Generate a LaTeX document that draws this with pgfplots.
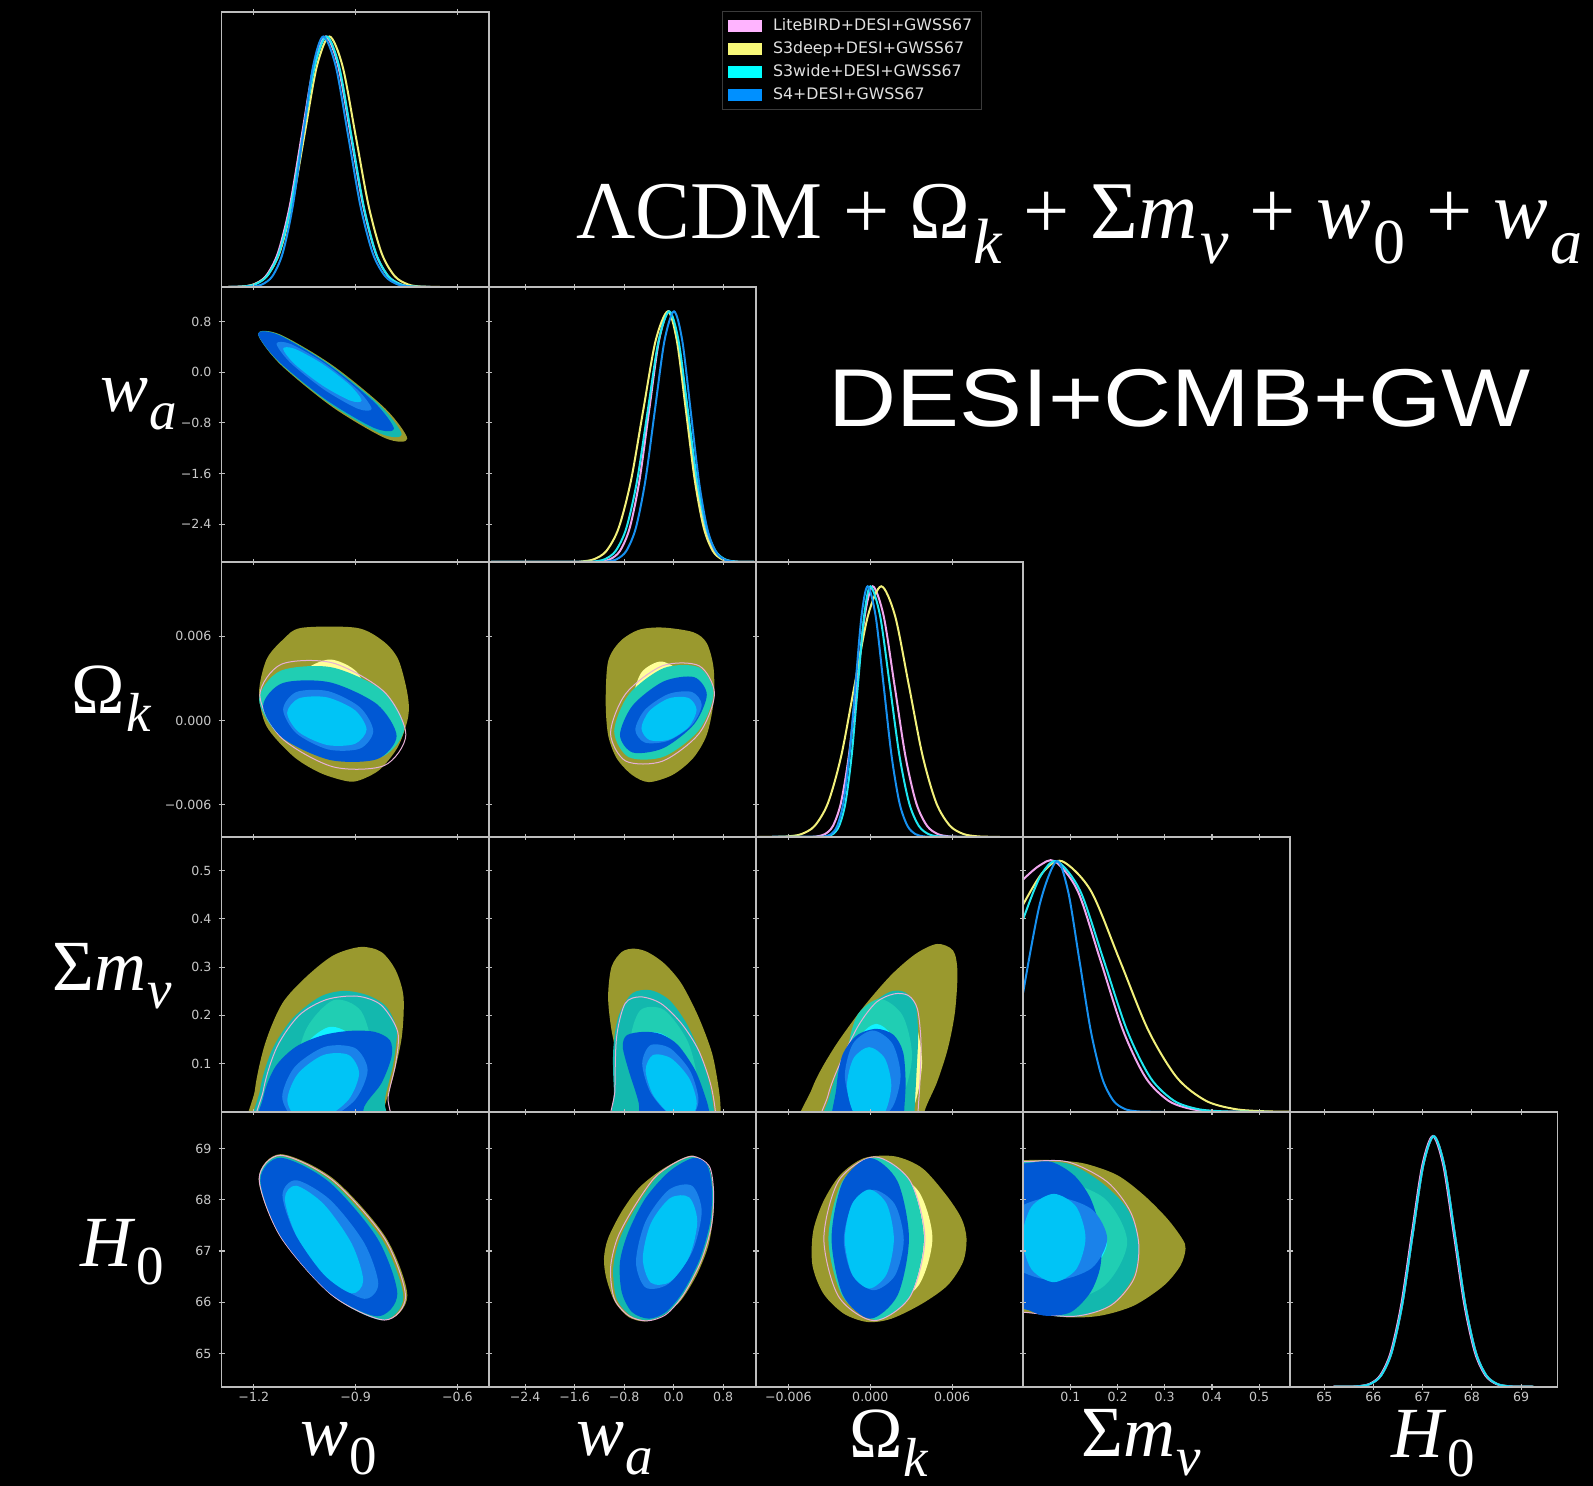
\documentclass[border=0pt]{standalone}
\usepackage{fontspec}
\setmainfont{Liberation Serif}
\newfontfamily\tickfont{DejaVu Sans}
\newfontfamily\desifont[FakeStretch=1.15]{Liberation Sans}
\usepackage{pgfplots}
\pgfplotsset{compat=1.18}
\definecolor{axgray}{HTML}{BDBDBD}
\definecolor{ticklab}{HTML}{C8C8C8}
\definecolor{legtext}{HTML}{E0E0E0}
\definecolor{leggray}{HTML}{3A3A3A}
\definecolor{olivec}{HTML}{9A992E}
\definecolor{yelc}{HTML}{FFFF99}
\definecolor{tealo}{HTML}{13B8AE}
\definecolor{teali}{HTML}{20CEB3}
\definecolor{cyanc}{HTML}{10F2FF}
\definecolor{dbluec}{HTML}{0058D4}
\definecolor{mbluec}{HTML}{1A82EA}
\definecolor{lbluec}{HTML}{00C4F6}
\definecolor{pinkl}{HTML}{E6B0D6}
\definecolor{cpink}{HTML}{F0A6EE}
\definecolor{cyel}{HTML}{F2F07A}
\definecolor{ccyan}{HTML}{1EE6F0}
\definecolor{cblue}{HTML}{1690F0}
\definecolor{legpink}{HTML}{FFB4FF}
\definecolor{legyel}{HTML}{F8F878}
\definecolor{legcyan}{HTML}{00FFFF}
\definecolor{legblue}{HTML}{0090FF}
\newcommand{\lab}[2]{{\fontsize{36}{36}\selectfont #1\kern0.5pt\raisebox{-0.25em}{\fontsize{27.5}{27.5}\selectfont #2}}}
\newcommand{\tsub}[1]{\kern1.5pt\raisebox{-0.3em}{\fontsize{32}{32}\selectfont #1}}
\pgfplotsset{
  panel/.style={scale only axis, width=133.6pt, height=137.45pt, axis on top,
    axis line style={axgray, line width=0.9pt}, tick style={axgray, line width=0.6pt},
    major tick length=3pt, tick align=center, scaled ticks=false,
    xticklabels={}, yticklabels={},
    tick label style={font=\tickfont\fontsize{6.3}{7}\selectfont, text=ticklab},
    xticklabel style={yshift=2.5pt}},
  c0/.style={xmin=-1.295,xmax=-0.508,xtick={-1.2,-0.9,-0.6}},
  c1/.style={xmin=-2.99,xmax=1.33,xtick={-2.4,-1.6,-0.8,0,0.8}},
  c2/.style={xmin=-0.00838,xmax=0.0112,xtick={-0.006,0,0.006}},
  c3/.style={xmin=0,xmax=0.566,xtick={0.1,0.2,0.3,0.4,0.5}},
  c4/.style={xmin=64.31,xmax=69.74,xtick={65,66,67,68,69}},
  r1/.style={ymin=-2.995,ymax=1.343,ytick={-2.4,-1.6,-0.8,0,0.8}},
  r2/.style={ymin=-0.0083,ymax=0.0113,ytick={-0.006,0,0.006}},
  r3/.style={ymin=0,ymax=0.57,ytick={0.1,0.2,0.3,0.4,0.5}},
  r4/.style={ymin=64.35,ymax=69.72,ytick={65,66,67,68,69}},
  diag/.style={ymin=0,ymax=1.097,ytick=\empty},
  xl0/.style={xticklabels={−1.2,−0.9,−0.6}},
  xl1/.style={xticklabels={−2.4,−1.6,−0.8,0.0,0.8}},
  xl2/.style={xticklabels={−0.006,0.000,0.006}},
  xl3/.style={xticklabels={0.1,0.2,0.3,0.4,0.5}},
  xl4/.style={xticklabels={65,66,67,68,69}},
  yl1/.style={yticklabels={−2.4,−1.6,−0.8,0.0,0.8}},
  yl2/.style={yticklabels={−0.006,0.000,0.006}},
  yl3/.style={yticklabels={0.1,0.2,0.3,0.4,0.5}},
  yl4/.style={yticklabels={65,66,67,68,69}},
  F/.style={fill=#1, draw=none, smooth cycle},
  L/.style={draw=pinkl, line width=0.5pt, fill=none, smooth cycle},
  C/.style={draw=#1, line width=1pt, smooth},
}
\begin{document}
\begin{tikzpicture}
\fill[black] (0,0) rectangle (796.5pt,743pt);

% ---------- (0,0) w0 1D
\begin{axis}[panel,c0,diag,at={(110.75pt,599.45pt)},anchor=south west,
  legend style={at={(1.873,1.004)},anchor=north west,fill=black,draw=leggray,line width=0.6pt,
    text=legtext,font=\tickfont\fontsize{7.9}{9.5}\selectfont,inner xsep=2.5pt,inner ysep=1.5pt,
    row sep=0pt,cells={anchor=west}},
  legend image code/.code={\fill[#1] (0pt,-2.8pt) rectangle (16.5pt,2.8pt);\path[draw=none,fill=none] (16.5pt,0pt) -- (20.5pt,0pt);}]
\addlegendimage{legpink}\addlegendentry{LiteBIRD+DESI+GWSS67}
\addlegendimage{legyel}\addlegendentry{S3deep+DESI+GWSS67}
\addlegendimage{legcyan}\addlegendentry{S3wide+DESI+GWSS67}
\addlegendimage{legblue}\addlegendentry{S4+DESI+GWSS67}
\addplot[C=cpink] coordinates {(-1.29,0) (-1.2348,0.0022) (-1.1995,0.0111) (-1.1643,0.0439) (-1.129,0.1353) (-1.0938,0.3247) (-1.0585,0.6065) (-1.0233,0.8825) (-0.988,1) (-0.9513,0.8825) (-0.9145,0.6065) (-0.8778,0.3247) (-0.841,0.1353) (-0.8043,0.0439) (-0.7675,0.0111) (-0.7308,0.0022) (-0.66,0)};
\addplot[C=cyel] coordinates {(-1.29,0) (-1.235,0.0022) (-1.1981,0.0111) (-1.1613,0.0439) (-1.1244,0.1353) (-1.0876,0.3247) (-1.0507,0.6065) (-1.0139,0.8825) (-0.977,1) (-0.9386,0.8825) (-0.9002,0.6065) (-0.8618,0.3247) (-0.8234,0.1353) (-0.785,0.0439) (-0.7466,0.0111) (-0.7082,0.0022) (-0.6314,0) (-0.59,0)};
\addplot[C=ccyan] coordinates {(-1.29,0) (-1.2311,0.0022) (-1.1959,0.0111) (-1.1608,0.0439) (-1.1256,0.1353) (-1.0905,0.3247) (-1.0553,0.6065) (-1.0202,0.8825) (-0.985,1) (-0.9488,0.8825) (-0.9126,0.6065) (-0.8764,0.3247) (-0.8402,0.1353) (-0.804,0.0439) (-0.7678,0.0111) (-0.7316,0.0022) (-0.66,0)};
\addplot[C=cblue] coordinates {(-1.29,0) (-1.2047,0.0022) (-1.1747,0.0111) (-1.1448,0.0439) (-1.1148,0.1353) (-1.0849,0.3247) (-1.0549,0.6065) (-1.025,0.8825) (-0.995,1) (-0.9586,0.8825) (-0.9223,0.6065) (-0.8859,0.3247) (-0.8496,0.1353) (-0.8132,0.0439) (-0.7769,0.0111) (-0.7405,0.0022) (-0.68,0)};
\end{axis}

% ---------- (1,0) w0-wa
\begin{axis}[panel,c0,r1,yl1,at={(110.75pt,462pt)},anchor=south west]
\addplot[F=olivec] coordinates {(-0.7478,-1.0519) (-0.8122,-0.5756) (-0.9676,0.1073) (-1.123,0.5968) (-1.1874,0.6065) (-1.123,0.1302) (-0.9676,-0.5527) (-0.8122,-1.0422)};
\addplot[F=tealo] coordinates {(-0.7643,-0.984) (-0.8263,-0.5319) (-0.9758,0.1212) (-1.1253,0.5927) (-1.1873,0.6065) (-1.1253,0.1543) (-0.9758,-0.4988) (-0.8263,-0.9703)};
\addplot[F=dbluec] coordinates {(-0.787,-0.894) (-0.8457,-0.4693) (-0.9872,0.1462) (-1.1287,0.5917) (-1.1873,0.6065) (-1.1287,0.1817) (-0.9872,-0.4338) (-0.8457,-0.8793)};
\addplot[F=mbluec] coordinates {(-0.8528,-0.578) (-0.8938,-0.2791) (-0.9929,0.1453) (-1.092,0.4467) (-1.133,0.4486) (-1.092,0.1497) (-0.9929,-0.2747) (-0.8938,-0.5761)};
\addplot[F=lbluec] coordinates {(-0.8823,-0.447) (-0.9162,-0.2072) (-0.998,0.1313) (-1.0798,0.3702) (-1.1136,0.3696) (-1.0798,0.1298) (-0.998,-0.2087) (-0.9162,-0.4476)};
\end{axis}

% ---------- (1,1) wa 1D
\begin{axis}[panel,c1,diag,at={(244.35pt,462pt)},anchor=south west]
\addplot[C=cpink] coordinates {(-2.95,0) (-1.3416,0.0003) (-1.1839,0.0022) (-1.0262,0.0111) (-0.8685,0.0439) (-0.7108,0.1353) (-0.5531,0.3247) (-0.3954,0.6065) (-0.2377,0.8825) (-0.08,1) (0.069,0.8825) (0.218,0.6065) (0.367,0.3247) (0.516,0.1353) (0.665,0.0439) (0.814,0.0111) (0.963,0.0022) (1.112,0.0003) (1.3,0)};
\addplot[C=cyel] coordinates {(-2.95,0) (-1.685,0.0003) (-1.486,0.0022) (-1.287,0.0111) (-1.088,0.0439) (-0.889,0.1353) (-0.69,0.3247) (-0.491,0.6065) (-0.292,0.8825) (-0.093,1) (0.0523,0.8825) (0.1975,0.6065) (0.3428,0.3247) (0.488,0.1353) (0.6333,0.0439) (0.7785,0.0111) (0.9238,0.0022) (1.069,0.0003) (1.3,0)};
\addplot[C=ccyan] coordinates {(-2.95,0) (-1.4592,0.0003) (-1.2856,0.0022) (-1.1119,0.0111) (-0.9383,0.0439) (-0.7646,0.1353) (-0.591,0.3247) (-0.4173,0.6065) (-0.2437,0.8825) (-0.07,1) (0.0795,0.8825) (0.229,0.6065) (0.3785,0.3247) (0.528,0.1353) (0.6775,0.0439) (0.827,0.0111) (0.9765,0.0022) (1.126,0.0003) (1.3,0)};
\addplot[C=cblue] coordinates {(-2.95,0) (-1.2292,0.0003) (-1.0748,0.0022) (-0.9204,0.0111) (-0.766,0.0439) (-0.6116,0.1353) (-0.4572,0.3247) (-0.3028,0.6065) (-0.1484,0.8825) (0.006,1) (0.1398,0.8825) (0.2735,0.6065) (0.4073,0.3247) (0.541,0.1353) (0.6748,0.0439) (0.8085,0.0111) (0.9423,0.0022) (1.076,0.0003) (1.3,0)};
\end{axis}

% ---------- (2,0) w0-Ok
\begin{axis}[panel,c0,r2,yl2,at={(110.75pt,324.55pt)},anchor=south west]
\addplot[F=olivec] coordinates {(-1.0593,0.006606) (-0.897,0.006606) (-0.8186,0.005651) (-0.7743,0.004347) (-0.7478,0.001974) (-0.7448,0.000306) (-0.7743,-0.001831) (-0.8283,-0.003492) (-0.8873,-0.004254) (-0.9265,-0.004326) (-1.0053,-0.003727) (-1.0841,-0.002544) (-1.1625,-0.000406) (-1.1844,0.001974) (-1.1625,0.004347) (-1.1136,0.005772)};
\addplot[F=yelc] coordinates {(-0.8627,0.001259) (-0.8958,0.003442) (-0.9758,0.004347) (-1.0558,0.003442) (-1.0889,0.001259) (-1.0558,-0.000924) (-0.9758,-0.001829) (-0.8958,-0.000924)};
\addplot[F=teali] coordinates {(-0.7566,-0.000522) (-0.8193,0.0021081) (-0.97045,0.0037892) (-1.1217,0.0035355) (-1.1843,0.001497) (-1.1217,-0.0011331) (-0.97045,-0.0028142) (-0.8193,-0.0025605)};
\addplot[L] coordinates {(-0.752,-0.001) (-0.815,0.002026) (-0.967,0.0041) (-1.119,0.004006) (-1.182,0.0018) (-1.119,-0.001226) (-0.967,-0.0033) (-0.815,-0.003206)};
\addplot[F=dbluec] coordinates {(-0.7792,-0.001116) (-0.8368,0.0011534) (-0.97585,0.0027202) (-1.1149,0.0026654) (-1.1725,0.001022) (-1.1149,-0.0012474) (-0.97585,-0.0028142) (-0.8368,-0.0027594)};
\addplot[F=mbluec] coordinates {(-0.848,-0.00076) (-0.8869,0.0009354) (-0.98075,0.0020904) (-1.0746,0.0020274) (-1.1135,0.000784) (-1.0746,-0.0009114) (-0.98075,-0.0020664) (-0.8869,-0.0020034)};
\addplot[F=lbluec] coordinates {(-0.8677,-0.000641) (-0.902,0.0007337) (-0.9847,0.0016513) (-1.0674,0.0015737) (-1.1017,0.000547) (-1.0674,-0.0008277) (-0.9847,-0.0017453) (-0.902,-0.0016677)};
\end{axis}

% ---------- (2,1) wa-Ok
\begin{axis}[panel,c1,r2,at={(244.35pt,324.55pt)},anchor=south west]
\addplot[F=olivec] coordinates {(-0.5648,0.006461) (-0.1796,0.006627) (0.3158,0.006294) (0.5360,0.00551) (0.6460,0.003729) (0.6460,0.001354) (0.5360,-0.001022) (0.3158,-0.002684) (-0.0144,-0.003872) (-0.3997,-0.004394) (-0.6749,-0.003872) (-0.9226,-0.002684) (-1.0602,-0.001022) (-1.0987,0.001354) (-1.0602,0.004204) (-0.8676,0.005629)};
\addplot[F=yelc] coordinates {(0.2332,0.001591) (0.1042,0.003438) (-0.2071,0.004204) (-0.5184,0.003438) (-0.6474,0.001591) (-0.5184,-0.000256) (-0.2071,-0.001022) (0.1042,-0.000256)};
\addplot[F=teali] coordinates {(0.646,0.001948) (0.4106,0.0037812) (-0.15755,0.003741) (-0.7257,0.0018496) (-0.9611,-0.000784) (-0.7257,-0.0026172) (-0.15755,-0.002577) (0.4106,-0.0006856)};
\addplot[L] coordinates {(0.66,0.0019) (0.4139,0.003894) (-0.18,0.0039) (-0.7739,0.001914) (-1.02,-0.0009) (-0.7739,-0.002894) (-0.18,-0.0029) (0.4139,-0.000914)};
\addplot[F=dbluec] coordinates {(0.536,0.001829) (0.3304,0.0030906) (-0.1658,0.0027788) (-0.662,0.001075) (-0.8676,-0.001022) (-0.662,-0.0022836) (-0.1658,-0.0019718) (0.3304,-0.000268)};
\addplot[F=mbluec] coordinates {(0.4534,0.001116) (0.2962,0.0020306) (-0.08325,0.0018882) (-0.4627,0.0007714) (-0.6199,-0.000665) (-0.4627,-0.0015796) (-0.08325,-0.0014372) (0.2962,-0.0003204)};
\addplot[F=lbluec] coordinates {(0.3708,0.00076) (0.2402,0.0016097) (-0.075,0.0015792) (-0.3902,0.0006857) (-0.5208,-0.000547) (-0.3902,-0.0013967) (-0.075,-0.0013662) (0.2402,-0.0004727)};
\end{axis}

% ---------- (2,2) Ok 1D
\begin{axis}[panel,c2,diag,at={(377.95pt,324.55pt)},anchor=south west]
\addplot[C=cpink] coordinates {(-0.0072,0) (-0.004483,0.0003) (-0.0039,0.0022) (-0.003317,0.0111) (-0.002734,0.0439) (-0.002151,0.1353) (-0.001568,0.3247) (-0.000985,0.6065) (-0.000402,0.8825) (0.000181,1) (0.000977,0.8825) (0.001773,0.6065) (0.002569,0.3247) (0.003365,0.1353) (0.004161,0.0439) (0.004957,0.0111) (0.005753,0.0022) (0.006549,0.0003) (0.0075,0)};
\addplot[C=cyel] coordinates {(-0.0082,0) (-0.007002,0.0003) (-0.006026,0.0022) (-0.00505,0.0111) (-0.004074,0.0439) (-0.003098,0.1353) (-0.002122,0.3247) (-0.001146,0.6065) (-0.00017,0.8825) (0.000806,1) (0.001814,0.8825) (0.002822,0.6065) (0.00383,0.3247) (0.004838,0.1353) (0.005846,0.0439) (0.006854,0.0111) (0.007862,0.0022) (0.00887,0.0003) (0.0095,0)};
\addplot[C=ccyan] coordinates {(-0.0072,0) (-0.003651,0.0003) (-0.003193,0.0022) (-0.002735,0.0111) (-0.002278,0.0439) (-0.00182,0.1353) (-0.001363,0.3247) (-0.000905,0.6065) (-0.000448,0.8825) (0.00001,1) (0.000719,0.8825) (0.001428,0.6065) (0.002137,0.3247) (0.002846,0.1353) (0.003555,0.0439) (0.004264,0.0111) (0.004973,0.0022) (0.005682,0.0003) (0.007,0)};
\addplot[C=cblue] coordinates {(-0.0072,0) (-0.003757,0.0003) (-0.003312,0.0022) (-0.002866,0.0111) (-0.002421,0.0439) (-0.001975,0.1353) (-0.00153,0.3247) (-0.001084,0.6065) (-0.000639,0.8825) (-0.000193,1) (0.000391,0.8825) (0.000974,0.6065) (0.001558,0.3247) (0.002141,0.1353) (0.002725,0.0439) (0.003308,0.0111) (0.003892,0.0022) (0.004475,0.0003) (0.006,0)};
\end{axis}

% ---------- (3,0) w0-mnu
\begin{axis}[panel,c0,r3,yl3,at={(110.75pt,187.1pt)},anchor=south west]
\addplot[F=olivec] coordinates {(-1.2017,-0.06) (-1.1967,0.0451) (-1.1665,0.1417) (-1.1162,0.2245) (-1.0457,0.2797) (-0.9652,0.3245) (-0.8847,0.3418) (-0.8243,0.3314) (-0.7820,0.2935) (-0.7589,0.2383) (-0.7639,0.1555) (-0.7891,0.0727) (-0.8193,-0.0032) (-0.8243,-0.06)};
\addplot[F=tealo] coordinates {(-1.1866,-0.06) (-1.1816,0.0451) (-1.1464,0.1279) (-1.0860,0.1934) (-1.0055,0.2383) (-0.9350,0.2507) (-0.8646,0.2417) (-0.8092,0.2176) (-0.7790,0.1693) (-0.7891,0.1003) (-0.8142,0.0244) (-0.8243,-0.06)};
\addplot[F=teali] coordinates {(-0.8495,0.1141) (-0.8834,0.2084) (-0.9652,0.2314) (-1.047,0.1694) (-1.0809,0.0589) (-1.047,-0.0354) (-0.9652,-0.0584) (-0.8834,0.0036)};
\addplot[F=cyanc] coordinates {(-0.8746,0.0827) (-0.9041,0.153) (-0.9753,0.1762) (-1.0465,0.1388) (-1.076,0.0627) (-1.0465,-0.0076) (-0.9753,-0.0308) (-0.9041,0.0066)};
\addplot[L] coordinates {(-1.1786,-0.06) (-1.1715,0.0451) (-1.1313,0.1348) (-1.0659,0.2003) (-0.9853,0.2328) (-0.8948,0.2397) (-0.8243,0.2210) (-0.7760,0.1658) (-0.7820,0.1003) (-0.8042,0.0313) (-0.8162,-0.06)};
\addplot[F=dbluec] coordinates {(-1.1816,-0.06) (-1.1715,0.0313) (-1.1363,0.0934) (-1.0759,0.1348) (-0.9954,0.1589) (-0.9149,0.1679) (-0.8444,0.1658) (-0.7991,0.1486) (-0.7941,0.1141) (-0.8243,0.0589) (-0.8746,0.0106) (-0.9048,-0.06)};
\addplot[F=mbluec] coordinates {(-0.8646,0.0865) (-0.9015,0.1321) (-0.9904,0.1348) (-1.0793,0.0931) (-1.1162,0.0313) (-1.0793,-0.0143) (-0.9904,-0.017) (-0.9015,0.0247)};
\addplot[F=lbluec] coordinates {(-0.8897,0.0796) (-0.9207,0.1179) (-0.9954,0.1176) (-1.0701,0.0789) (-1.1011,0.0244) (-1.0701,-0.0139) (-0.9954,-0.0136) (-0.9207,0.0251)};
\end{axis}

% ---------- (3,1) wa-mnu
\begin{axis}[panel,c1,r3,at={(244.35pt,187.1pt)},anchor=south west]
\addplot[F=olivec] coordinates {(-0.6462,0.3383) (-0.4256,0.3314) (-0.1499,0.3073) (0.1257,0.2659) (0.4014,0.1969) (0.6219,0.1210) (0.7322,0.0451) (0.7598,-0.0018) (0.7322,-0.06) (-0.7013,-0.06) (-0.7289,-0.0018) (-0.8667,0.0865) (-1.0045,0.1693) (-1.0597,0.2383) (-1.0045,0.3004) (-0.8391,0.3314)};
\addplot[F=tealo] coordinates {(-0.8943,-0.06) (-0.966,0.0451) (-0.977,0.1279) (-0.8943,0.1969) (-0.6737,0.2452) (-0.3705,0.2521) (-0.0673,0.2314) (0.2085,0.1831) (0.429,0.121) (0.5778,0.0589) (0.655,-0.0018) (0.6661,-0.06)};
\addplot[F=teali] coordinates {(0.4014,0.0451) (0.2398,0.1422) (-0.15,0.2107) (-0.5398,0.2104) (-0.7013,0.1417) (-0.5398,0.0446) (-0.15,-0.0239) (0.2398,-0.0236)};
\addplot[F=cyanc] coordinates {(0.236,0.0865) (0.1068,0.1316) (-0.2051,0.1624) (-0.517,0.1608) (-0.6462,0.1279) (-0.517,0.0828) (-0.2051,0.052) (0.1068,0.0536)};
\addplot[L] coordinates {(-0.9494,-0.06) (-0.9494,0.0451) (-0.9218,0.1555) (-0.784,0.2245) (-0.5359,0.2383) (-0.2051,0.2245) (0.1257,0.1831) (0.4014,0.1279) (0.5944,0.0589) (0.6771,-0.0018) (0.6881,-0.06)};
\addplot[F=dbluec] coordinates {(-0.4808,-0.06) (-0.5635,0.0175) (-0.7289,0.0865) (-0.8226,0.1348) (-0.7564,0.1589) (-0.4808,0.1658) (-0.2051,0.161) (0.0706,0.1383) (0.3463,0.0865) (0.5117,0.0313) (0.5778,-0.0032) (0.5944,-0.06)};
\addplot[F=mbluec] coordinates {(0.4014,0.0244) (0.2681,0.0843) (-0.0535,0.1314) (-0.3751,0.1381) (-0.5084,0.1003) (-0.3751,0.0405) (-0.0535,-0.0066) (0.2681,-0.0133)};
\addplot[F=lbluec] coordinates {(0.3738,0.0175) (0.2526,0.0691) (-0.0397,0.1107) (-0.332,0.1179) (-0.4532,0.0865) (-0.332,0.0349) (-0.0397,-0.0067) (0.2526,-0.0139)};
\end{axis}

% ---------- (3,2) Ok-mnu
\begin{axis}[panel,c2,r3,at={(377.95pt,187.1pt)},anchor=south west]
\addplot[F=olivec] coordinates {(-0.005191,-0.06) (-0.004274,0.0478) (-0.002702,0.1306) (-0.000606,0.2134) (0.001489,0.2824) (0.003323,0.3273) (0.004895,0.3480) (0.006074,0.3342) (0.006388,0.2894) (0.006205,0.2065) (0.005681,0.1306) (0.004895,0.0616) (0.003978,0.001) (0.003716,-0.06)};
\addplot[F=yelc] coordinates {(0.003794,0.103) (0.003119,0.2006) (0.001489,0.241) (-0.000141,0.2006) (-0.000816,0.103) (-0.000141,0.0054) (0.001489,-0.035) (0.003119,0.0054)};
\addplot[F=tealo] coordinates {(-0.003488,-0.06) (-0.002964,0.034) (-0.002047,0.1099) (-0.000868,0.1789) (0.000311,0.2272) (0.001489,0.2493) (0.002537,0.2479) (0.003323,0.2203) (0.003506,0.1582) (0.003402,0.0892) (0.003244,0.001) (0.003192,-0.06)};
\addplot[F=teali] coordinates {(0.003061,0.1168) (0.00237,0.1997) (0.000703,0.2341) (-0.000964,0.1997) (-0.001655,0.1168) (-0.000964,0.0339) (0.000703,-0.0005) (0.00237,0.0339)};
\addplot[F=cyanc] coordinates {(0.002013,0.103) (0.001552,0.1591) (0.000441,0.1824) (-0.00067,0.1591) (-0.001131,0.103) (-0.00067,0.0469) (0.000441,0.0236) (0.001552,0.0469)};
\addplot[L] coordinates {(-0.003619,-0.06) (-0.003095,0.034) (-0.002178,0.103) (-0.000868,0.1789) (0.000441,0.2272) (0.001751,0.2445) (0.002799,0.241) (0.003454,0.2134) (0.003716,0.1444) (0.003637,0.0616) (0.003506,0.001) (0.003454,-0.06)};
\addplot[F=dbluec] coordinates {(-0.00265,-0.06) (-0.002493,0.0478) (-0.002047,0.117) (-0.000999,0.1582) (0.000441,0.172) (0.001699,0.1596) (0.002406,0.1238) (0.00259,0.0616) (0.002485,0.001) (0.002406,-0.06)};
\addplot[F=mbluec] coordinates {(0.002223,0.0754) (0.001624,0.1413) (0.00018,0.1686) (-0.001264,0.1413) (-0.001863,0.0754) (-0.001264,0.0095) (0.00018,-0.0178) (0.001624,0.0095)};
\addplot[F=lbluec] coordinates {(0.001542,0.0547) (0.001066,0.1108) (-0.000082,0.1341) (-0.00123,0.1108) (-0.001706,0.0547) (-0.00123,-0.0014) (-0.000082,-0.0247) (0.001066,-0.0014)};
\end{axis}

% ---------- (3,3) mnu 1D
\begin{axis}[panel,c3,diag,at={(511.55pt,187.1pt)},anchor=south west]
\addplot[C=cpink] coordinates {(0,0.927) (0.0335,0.981) (0.0671,1) (0.1153,0.8825) (0.1635,0.6065) (0.2117,0.3247) (0.2599,0.1353) (0.3081,0.0439) (0.3563,0.0111) (0.4045,0.0022) (0.4527,0.0003) (0.52,0)};
\addplot[C=cyel] coordinates {(0,0.827) (0.041,0.954) (0.0823,1) (0.1433,0.8825) (0.2043,0.6065) (0.2653,0.3247) (0.3263,0.1353) (0.3873,0.0439) (0.4483,0.0111) (0.5093,0.0022) (0.5703,0.0003)};
\addplot[C=ccyan] coordinates {(0,0.768) (0.0355,0.936) (0.0709,1) (0.1207,0.8825) (0.1704,0.6065) (0.2202,0.3247) (0.2699,0.1353) (0.3197,0.0439) (0.3694,0.0111) (0.4192,0.0022) (0.4689,0.0003) (0.52,0)};
\addplot[C=cblue] coordinates {(0,0.475) (0.0355,0.830) (0.0709,1) (0.095,0.8825) (0.1191,0.6065) (0.1432,0.3247) (0.1673,0.1353) (0.1914,0.0439) (0.2155,0.0111) (0.2396,0.0022) (0.2637,0.0003) (0.3,0)};
\end{axis}

% ---------- (4,0) w0-H0
\begin{axis}[panel,c0,r4,xl0,yl4,at={(110.75pt,49.65pt)},anchor=south west]
\addplot[F=olivec] coordinates {(-0.7477,66.1298) (-0.8118,67.2738) (-0.9665,68.4178) (-1.1212,68.8914) (-1.1853,68.4177) (-1.1212,67.2738) (-0.9665,66.1298) (-0.8118,65.6562)};
\addplot[F=tealo] coordinates {(-0.7595,66.0971) (-0.8216,67.2209) (-0.9714,68.3622) (-1.1212,68.8523) (-1.1833,68.4046) (-1.1212,67.2809) (-0.9714,66.1396) (-0.8216,65.6495)};
\addplot[L] coordinates {(-0.753,66.11) (-0.815,67.25) (-0.969,68.39) (-1.121,68.87) (-1.184,68.41) (-1.121,67.28) (-0.969,66.135) (-0.815,65.652)};
\addplot[F=dbluec] coordinates {(-0.7772,66.1625) (-0.8363,67.2507) (-0.9788,68.3524) (-1.1213,68.8221) (-1.1804,68.385) (-1.1213,67.2969) (-0.9788,66.1952) (-0.8363,65.7255)};
\addplot[F=mbluec] coordinates {(-0.8332,66.3586) (-0.8746,67.1578) (-0.9744,67.9962) (-1.0742,68.3826) (-1.1155,68.0909) (-1.0742,67.2918) (-0.9744,66.4534) (-0.8746,66.067)};
\addplot[F=lbluec] coordinates {(-0.8775,66.4239) (-0.9114,67.1438) (-0.9931,67.9111) (-1.0748,68.2762) (-1.1086,68.0255) (-1.0748,67.3056) (-0.9931,66.5383) (-0.9114,66.1732)};
\end{axis}

% ---------- (4,1) wa-H0
\begin{axis}[panel,c1,r4,xl1,at={(244.35pt,49.65pt)},anchor=south west]
\addplot[F=olivec] coordinates {(0.3158,68.8623) (0.536,68.6858) (0.6351,68.2936) (0.646,67.7706) (0.5635,67.1169) (0.3708,66.5286) (0.0958,66.0056) (-0.2346,65.7115) (-0.4823,65.6265) (-0.73,65.7115) (-0.9501,66.0056) (-1.0877,66.4632) (-1.1263,66.8554) (-1.0602,67.2477) (-0.84,67.7706) (-0.5648,68.2282) (-0.2346,68.5551) (0.0958,68.7838)};
\addplot[F=tealo] coordinates {(0.3158,68.8361) (0.5635,68.6531) (0.6351,68.1628) (0.6021,67.5091) (0.4369,66.8227) (0.1617,66.171) (-0.1245,65.7768) (-0.4273,65.6461) (-0.7024,65.7442) (-0.9226,66.0709) (-0.9776,66.6593) (-0.8676,67.2477) (-0.6199,67.836) (-0.2897,68.4243) (0.0406,68.7185)};
\addplot[L] coordinates {(0.3158,68.85) (0.575,68.66) (0.645,68.16) (0.612,67.5) (0.445,66.81) (0.165,66.16) (-0.124,65.76) (-0.44,65.635) (-0.73,65.74) (-0.96,66.07) (-1.02,66.66) (-0.91,67.25) (-0.65,67.84) (-0.31,68.43) (0.03,68.73)};
\addplot[F=dbluec] coordinates {(0.3158,68.8165) (0.536,68.6858) (0.6185,68.2282) (0.591,67.5745) (0.4259,66.8554) (0.1507,66.2017) (-0.1245,65.8095) (-0.3997,65.6788) (-0.6749,65.8095) (-0.84,66.2017) (-0.8676,66.79) (-0.73,67.3784) (-0.4547,68.0321) (-0.0695,68.5551)};
\addplot[F=mbluec] coordinates {(0.4534,67.7706) (0.2978,68.2739) (-0.0778,68.1955) (-0.4534,67.5807) (-0.6089,66.79) (-0.4534,66.2867) (-0.0778,66.3651) (0.2978,66.9799)};
\addplot[F=lbluec] coordinates {(0.3818,67.5745) (0.2528,68.0469) (-0.0585,68.0321) (-0.3698,67.5385) (-0.4988,66.8554) (-0.3698,66.3831) (-0.0585,66.3979) (0.2528,66.8915)};
\end{axis}

% ---------- (4,2) Ok-H0
\begin{axis}[panel,c2,r4,xl2,at={(377.95pt,49.65pt)},anchor=south west]
\addplot[F=olivec] coordinates {(-0.000443,68.8165) (0.001806,68.8492) (0.003804,68.6204) (0.005553,68.0975) (0.006677,67.6399) (0.007052,67.2477) (0.006802,66.79) (0.005678,66.3324) (0.003804,65.9729) (0.001556,65.6788) (-0.000193,65.6134) (-0.001942,65.7768) (-0.003441,66.171) (-0.00424,66.7247) (-0.00419,67.3784) (-0.003441,67.9667) (-0.002192,68.4897)};
\addplot[F=yelc] coordinates {(0.004554,67.2477) (0.003529,68.172) (0.001056,68.5551) (-0.001417,68.172) (-0.002442,67.2477) (-0.001417,66.3234) (0.001056,65.9403) (0.003529,66.3234)};
\addplot[F=teali] coordinates {(0.00393,67.2411) (0.002905,68.3642) (0.000432,68.8296) (-0.002041,68.3642) (-0.003066,67.2411) (-0.002041,66.118) (0.000432,65.6526) (0.002905,66.118)};
\addplot[L] coordinates {(0.004,67.24) (0.002916,68.3712) (0.0003,68.84) (-0.002316,68.3712) (-0.0034,67.24) (-0.002316,66.1088) (0.0003,65.64) (0.002916,66.1088)};
\addplot[F=dbluec] coordinates {(0.002836,67.2477) (0.002005,68.3569) (0,68.8166) (-0.002005,68.3569) (-0.002836,67.2477) (-0.002005,66.1385) (0,65.6788) (0.002005,66.1385)};
\addplot[F=mbluec] coordinates {(0.002455,67.215) (0.001811,67.9083) (0.000257,68.1956) (-0.001297,67.9083) (-0.001941,67.215) (-0.001297,66.5217) (0.000257,66.2344) (0.001811,66.5217)};
\addplot[F=lbluec] coordinates {(0.001731,67.2346) (0.001204,67.9186) (-0.000068,68.2021) (-0.00134,67.9186) (-0.001867,67.2346) (-0.00134,66.5506) (-0.000068,66.2671) (0.001204,66.5506)};
\end{axis}

% ---------- (4,3) mnu-H0
\begin{axis}[panel,c3,r4,xl3,at={(511.55pt,49.65pt)},anchor=south west]
\addplot[F=olivec] coordinates {(-0.062,68.7773) (0.0015,68.7773) (0.058,68.7773) (0.1287,68.7119) (0.1993,68.483) (0.2558,68.0908) (0.3053,67.6332) (0.337,67.2411) (0.3441,67.045) (0.3335,66.7181) (0.2982,66.3259) (0.2346,65.9337) (0.164,65.7376) (0.0934,65.7049) (0.0015,65.803) (-0.062,65.803)};
\addplot[F=tealo] coordinates {(-0.062,68.7446) (0.0015,68.7446) (0.0934,68.7119) (0.164,68.3524) (0.2205,67.8294) (0.2452,67.1757) (0.2346,66.5221) (0.1922,65.9991) (0.1287,65.7376) (0.058,65.7376) (0.0015,65.8684) (-0.062,65.8684)};
\addplot[F=teali] coordinates {(0.2205,67.1757) (0.1688,68.0538) (0.0439,68.4177) (-0.081,68.0538) (-0.1327,67.1757) (-0.081,66.2976) (0.0439,65.9337) (0.1688,66.2976)};
\addplot[F=cyanc] coordinates {(0.1781,67.1757) (0.1429,67.7303) (0.058,67.9601) (-0.0269,67.7303) (-0.0621,67.1757) (-0.0269,66.6211) (0.058,66.3913) (0.1429,66.6211)};
\addplot[L] coordinates {(-0.062,68.7446) (0.0015,68.7446) (0.0934,68.7446) (0.1781,68.3524) (0.2275,67.764) (0.2452,67.1103) (0.2346,66.4566) (0.1852,65.9337) (0.1075,65.7245) (0.0015,65.803) (-0.062,65.803)};
\addplot[F=dbluec] coordinates {(-0.062,68.7119) (0.0015,68.7119) (0.058,68.7446) (0.1075,68.483) (0.1428,68.0255) (0.164,67.3718) (0.164,66.7181) (0.1428,66.1952) (0.1004,65.803) (0.0439,65.7376) (0.0015,65.8684) (-0.062,65.8684)};
\addplot[F=mbluec] coordinates {(0.1781,67.2411) (0.145,67.8188) (0.0651,68.0582) (-0.0148,67.8188) (-0.0479,67.2411) (-0.0148,66.6634) (0.0651,66.424) (0.145,66.6634)};
\addplot[F=lbluec] coordinates {(0.1322,67.2542) (0.1125,67.8643) (0.0651,68.1171) (0.0177,67.8643) (-0.002,67.2542) (0.0177,66.6441) (0.0651,66.3913) (0.1125,66.6441)};
\end{axis}

% ---------- (4,4) H0 1D
\begin{axis}[panel,c4,diag,xl4,at={(645.15pt,49.65pt)},anchor=south west]
\addplot[C=cpink] coordinates {(65.18,0) (65.489,0.0003) (65.7035,0.0022) (65.918,0.0111) (66.1325,0.0439) (66.347,0.1353) (66.5615,0.3247) (66.776,0.6065) (66.9905,0.8825) (67.205,1) (67.4195,0.8825) (67.634,0.6065) (67.8485,0.3247) (68.063,0.1353) (68.2775,0.0439) (68.492,0.0111) (68.7065,0.0022) (68.921,0.0003) (69.23,0)};
\addplot[C=cyel] coordinates {(65.2,0) (65.509,0.0003) (65.7235,0.0022) (65.938,0.0111) (66.1525,0.0439) (66.367,0.1353) (66.5815,0.3247) (66.796,0.6065) (67.0105,0.8825) (67.225,1) (67.4395,0.8825) (67.654,0.6065) (67.8685,0.3247) (68.083,0.1353) (68.2975,0.0439) (68.512,0.0111) (68.7265,0.0022) (68.941,0.0003) (69.25,0)};
\addplot[C=cblue] coordinates {(65.2,0) (65.509,0.0003) (65.7235,0.0022) (65.938,0.0111) (66.1525,0.0439) (66.367,0.1353) (66.5815,0.3247) (66.796,0.6065) (67.0105,0.8825) (67.225,1) (67.4395,0.8825) (67.654,0.6065) (67.8685,0.3247) (68.083,0.1353) (68.2975,0.0439) (68.512,0.0111) (68.7265,0.0022) (68.941,0.0003) (69.25,0)};
\addplot[C=ccyan, line width=0.7pt] coordinates {(65.2,0) (65.509,0.0003) (65.7235,0.0022) (65.938,0.0111) (66.1525,0.0439) (66.367,0.1353) (66.5815,0.3247) (66.796,0.6065) (67.0105,0.8825) (67.225,1) (67.4395,0.8825) (67.654,0.6065) (67.8685,0.3247) (68.083,0.1353) (68.2975,0.0439) (68.512,0.0111) (68.7265,0.0022) (68.941,0.0003) (69.25,0)};
\end{axis}

% ---------- texts
\node[anchor=base west, text=white, inner sep=0pt] at (288pt,623.5pt)
  {\fontsize{41}{41}\selectfont ΛCDM + Ω\tsub{\textit{k}} + Σ\textit{m}\tsub{\textit{ν}} + \textit{w}\tsub{0} + \textit{w}\tsub{\textit{a}}};
\node[anchor=base west, text=white, inner sep=0pt] at (414pt,529.5pt)
  {\desifont\fontsize{41}{41}\selectfont DESI+CMB+GW};
\node[anchor=base, text=white, inner sep=0pt] at (69.35pt,537.25pt) {\lab{\textit{w}}{\textit{a}}};
\node[anchor=base, text=white, inner sep=0pt] at (55.9pt,386pt) {\lab{Ω}{\textit{k}}};
\node[anchor=base, text=white, inner sep=0pt] at (55.9pt,247.7pt) {\lab{Σ\textit{m}}{\textit{ν}}};
\node[anchor=base, text=white, inner sep=0pt] at (61pt,109.5pt) {\lab{\textit{H}}{0}};
\node[anchor=base, text=white, inner sep=0pt] at (169.2pt,15pt) {\lab{\textit{w}}{0}};
\node[anchor=base, text=white, inner sep=0pt] at (307.35pt,15pt) {\lab{\textit{w}}{\textit{a}}};
\node[anchor=base, text=white, inner sep=0pt] at (444.5pt,14pt) {\lab{Ω}{\textit{k}}};
\node[anchor=base, text=white, inner sep=0pt] at (570.5pt,14.5pt) {\lab{Σ\textit{m}}{\textit{ν}}};
\node[anchor=base, text=white, inner sep=0pt] at (716.8pt,14pt) {\lab{\textit{H}}{0}};
\end{tikzpicture}
\end{document}
